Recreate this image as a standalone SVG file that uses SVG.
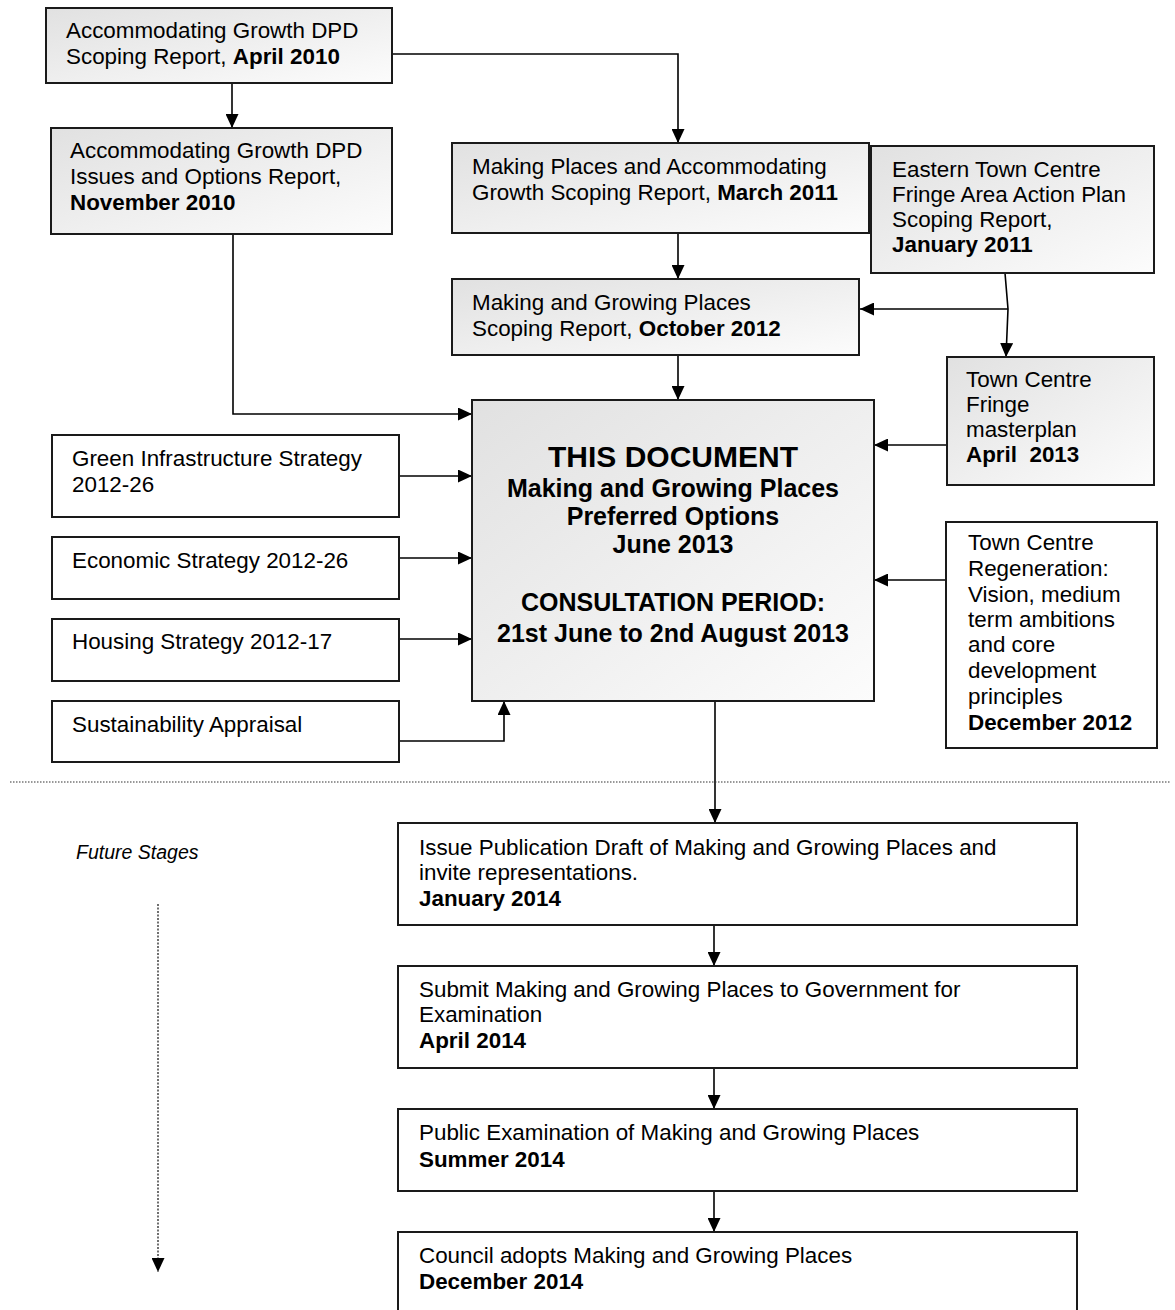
<svg xmlns="http://www.w3.org/2000/svg" width="1175" height="1310" viewBox="0 0 1175 1310">
<style>
  text { font-family: "Liberation Sans", Arial, sans-serif; font-size: 22.4px; fill: #000; }
  .b { font-weight: bold; }
  .box { stroke: #1a1a1a; stroke-width: 2; }
  .g { fill: url(#grad); }
  .w { fill: #fff; }
  .c { fill: none; stroke: #000; stroke-width: 1.6; }
  .ct { text-anchor: middle; font-weight: bold; font-size: 25px; }
</style>
<defs>
  <linearGradient id="grad" x1="0" y1="0" x2="1" y2="1">
    <stop offset="0" stop-color="#e1e1e1"/>
    <stop offset="1" stop-color="#fcfcfc"/>
  </linearGradient>
  <marker id="ah" markerWidth="14" markerHeight="13" refX="14" refY="6.5" orient="auto" markerUnits="userSpaceOnUse">
    <path d="M0,0 L14,6.5 L0,13 z" fill="#000"/>
  </marker>
</defs>
<rect width="1175" height="1310" fill="#fff"/>

<g id="connectors">
  <path class="c" d="M232,83 V128" marker-end="url(#ah)"/>
  <path class="c" d="M392,54 H678 V143" marker-end="url(#ah)"/>
  <path class="c" d="M678,233 V279" marker-end="url(#ah)"/>
  <path class="c" d="M678,355 V400" marker-end="url(#ah)"/>
  <path class="c" d="M233,234 V414 H472" marker-end="url(#ah)"/>
  <path class="c" d="M1008,309 H860" marker-end="url(#ah)"/>
  <path class="c" d="M1005,273 L1008,309 L1006,357" marker-end="url(#ah)"/>
  <path class="c" d="M963,445 H874" marker-end="url(#ah)"/>
  <path class="c" d="M952,580 H874" marker-end="url(#ah)"/>
  <path class="c" d="M399,476 H472" marker-end="url(#ah)"/>
  <path class="c" d="M399,558 H472" marker-end="url(#ah)"/>
  <path class="c" d="M399,639 H472" marker-end="url(#ah)"/>
  <path class="c" d="M399,741 H504 V701" marker-end="url(#ah)"/>
  <path class="c" d="M715,701 V823" marker-end="url(#ah)"/>
  <path class="c" d="M714,925 V966" marker-end="url(#ah)"/>
  <path class="c" d="M714,1068 V1109" marker-end="url(#ah)"/>
  <path class="c" d="M714,1191 V1232" marker-end="url(#ah)"/>
  <path d="M10,782 H1170" stroke="#333" stroke-width="1.2" stroke-dasharray="1.5 1.5" fill="none"/>
  <path d="M158,904 V1272" stroke="#333" stroke-width="1.4" stroke-dasharray="2 1.5" fill="none" marker-end="url(#ah)"/>
</g>

<g id="n-ag-scoping">
  <rect class="box g" x="46" y="8" width="346" height="75"/>
  <text x="66" y="38">Accommodating Growth DPD</text>
  <text x="66" y="64">Scoping Report, <tspan class="b">April 2010</tspan></text>
</g>

<g id="n-ag-issues">
  <rect class="box g" x="51" y="128" width="341" height="106"/>
  <text x="70" y="158">Accommodating Growth DPD</text>
  <text x="70" y="184">Issues and Options Report,</text>
  <text x="70" y="210" class="b">November 2010</text>
</g>

<g id="n-mp-scoping">
  <rect class="box g" x="452" y="143" width="417" height="90"/>
  <text x="472" y="174">Making Places and Accommodating</text>
  <text x="472" y="200">Growth Scoping Report, <tspan class="b">March 2011</tspan></text>
</g>

<g id="n-mgp-scoping">
  <rect class="box g" x="452" y="279" width="407" height="76"/>
  <text x="472" y="310">Making and Growing Places</text>
  <text x="472" y="336">Scoping Report, <tspan class="b">October 2012</tspan></text>
</g>

<g id="n-eastern">
  <rect class="box g" x="871" y="146" width="283" height="127"/>
  <text x="892" y="177">Eastern Town Centre</text>
  <text x="892" y="202">Fringe Area Action Plan</text>
  <text x="892" y="227">Scoping Report,</text>
  <text x="892" y="252" class="b">January 2011</text>
</g>

<g id="n-masterplan">
  <rect class="box g" x="947" y="357" width="207" height="128"/>
  <text x="966" y="387">Town Centre</text>
  <text x="966" y="412">Fringe</text>
  <text x="966" y="437">masterplan</text>
  <text x="966" y="462" class="b">April&#160; 2013</text>
</g>

<g id="n-this">
  <rect class="box g" x="472" y="400" width="402" height="301"/>
  <text class="ct" x="673" y="467" style="font-size:30px">THIS DOCUMENT</text>
  <text class="ct" x="673" y="497">Making and Growing Places</text>
  <text class="ct" x="673" y="525">Preferred Options</text>
  <text class="ct" x="673" y="553">June 2013</text>
  <text class="ct" x="673" y="611">CONSULTATION PERIOD:</text>
  <text class="ct" x="673" y="642">21st June to 2nd August 2013</text>
</g>

<g id="n-green">
  <rect class="box w" x="52" y="435" width="347" height="82"/>
  <text x="72" y="466">Green Infrastructure Strategy</text>
  <text x="72" y="492">2012-26</text>
</g>

<g id="n-economic">
  <rect class="box w" x="52" y="537" width="347" height="62"/>
  <text x="72" y="568">Economic Strategy 2012-26</text>
</g>

<g id="n-housing">
  <rect class="box w" x="52" y="619" width="347" height="62"/>
  <text x="72" y="649">Housing Strategy 2012-17</text>
</g>

<g id="n-sa">
  <rect class="box w" x="52" y="701" width="347" height="61"/>
  <text x="72" y="732">Sustainability Appraisal</text>
</g>

<g id="n-regen">
  <rect class="box w" x="946" y="522" width="211" height="226"/>
  <text x="968" y="550">Town Centre</text>
  <text x="968" y="576">Regeneration:</text>
  <text x="968" y="602">Vision, medium</text>
  <text x="968" y="627">term ambitions</text>
  <text x="968" y="652">and core</text>
  <text x="968" y="678">development</text>
  <text x="968" y="704">principles</text>
  <text x="968" y="730" class="b">December 2012</text>
</g>

<g id="n-future-label">
  <text x="76" y="859" style="font-style:italic;font-size:19.5px">Future Stages</text>
</g>

<g id="n-publication">
  <rect class="box w" x="398" y="823" width="679" height="102"/>
  <text x="419" y="855">Issue Publication Draft of Making and Growing Places and</text>
  <text x="419" y="880">invite representations.</text>
  <text x="419" y="906" class="b">January 2014</text>
</g>

<g id="n-submit">
  <rect class="box w" x="398" y="966" width="679" height="102"/>
  <text x="419" y="997">Submit Making and Growing Places to Government for</text>
  <text x="419" y="1022">Examination</text>
  <text x="419" y="1048" class="b">April 2014</text>
</g>

<g id="n-exam">
  <rect class="box w" x="398" y="1109" width="679" height="82"/>
  <text x="419" y="1140">Public Examination of Making and Growing Places</text>
  <text x="419" y="1167" class="b">Summer 2014</text>
</g>

<g id="n-adopt">
  <rect class="box w" x="398" y="1232" width="679" height="90"/>
  <text x="419" y="1263">Council adopts Making and Growing Places</text>
  <text x="419" y="1289" class="b">December 2014</text>
</g>
</svg>
